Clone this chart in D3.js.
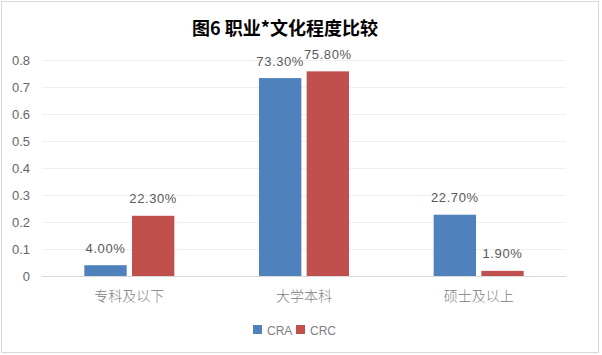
<!DOCTYPE html>
<html>
<head>
<meta charset="utf-8">
<script src="https://d3js.org/d3.v7.min.js"></script>
<style>
  body { margin: 0; background: #fff; }
  text { font-family: "Liberation Sans", "Noto Sans CJK SC", sans-serif; }
</style>
</head>
<body>
<div id="chart"></div>
<script>
// categories, series and their values
var categories = ["专科及以下", "大学本科", "硕士及以上"];
var seriesNames = ["CRA", "CRC"];
var cra = [0.04, 0.733, 0.227];
var crc = [0.223, 0.758, 0.019];
var yTicks = [0, 0.1, 0.2, 0.3, 0.4, 0.5, 0.6, 0.7, 0.8];
var colors = ["#4F81BD", "#C0504D"];

var W = 602, H = 355;
var svg = d3.select("#chart").append("svg").attr("width", W).attr("height", H);

// outer border of the chart area
svg.append("rect").attr("x", 1.5).attr("y", 1.5).attr("width", W - 5).attr("height", H - 4)
  .attr("fill", "#fff").attr("stroke", "#d9d9d9");

// plot area (note: "top" would clash with window.top)
var pLeft = 42, pRight = 566, pTop = 60, pBottom = 276;

var x = d3.scaleBand().domain(categories).range([pLeft, pRight]);
var x1 = d3.scaleBand().domain(seriesNames).range([0, 90]).paddingInner(0.111);
var y = d3.scaleLinear().domain([0, 0.8]).range([pBottom, pTop]);

// gridlines
svg.append("g").selectAll("line").data(yTicks).join("line")
  .attr("x1", pLeft).attr("x2", pRight)
  .attr("y1", function (d) { return Math.round(y(d)) + 0.5; })
  .attr("y2", function (d) { return Math.round(y(d)) + 0.5; })
  .attr("stroke", function (d) { return d === 0 ? "#d9d9d9" : "#efefef"; });

// y tick labels
svg.append("g").selectAll("text").data(yTicks).join("text")
  .attr("x", 30).attr("y", function (d) { return y(d) + 4.5; })
  .attr("text-anchor", "end").attr("fill", "#666").style("font-size", "13px")
  .text(function (d) { return d === 0 ? "0" : d3.format(".1f")(d); });

// bars
var rows = categories.map(function (c, i) { return { cat: c, vals: [cra[i], crc[i]] }; });
var groups = svg.append("g").selectAll("g").data(rows).join("g")
  .attr("transform", function (d) { return "translate(" + (x(d.cat) + (x.bandwidth() - 90) / 2) + ",0)"; });

groups.selectAll("rect").data(function (d) {
  return d.vals.map(function (v, j) { return { s: seriesNames[j], v: v, j: j }; });
}).join("rect")
  .attr("x", function (d) { return x1(d.s); })
  .attr("width", x1.bandwidth())
  .attr("y", function (d) { return y(d.v); })
  .attr("height", function (d) { return pBottom - y(d.v); })
  .attr("fill", function (d) { return colors[d.j]; });

groups.selectAll("text").data(function (d) {
  return d.vals.map(function (v, j) { return { s: seriesNames[j], v: v, j: j }; });
}).join("text")
  .attr("x", function (d) { return x1(d.s) + x1.bandwidth() / 2; })
  .attr("y", function (d) { return y(d.v) - 12.5; })
  .attr("text-anchor", "middle").attr("fill", "#595959").style("font-size", "13px")
  .style("letter-spacing", "0.6px")
  .text(function (d) { return d3.format(".2f")(d.v * 100) + "%"; });

// category labels
svg.append("g").selectAll("text").data(categories).join("text")
  .attr("x", function (d) { return x(d) + x.bandwidth() / 2; })
  .attr("y", 301)
  .attr("text-anchor", "middle").attr("fill", "#808080")
  .style("font-family", "'Noto Sans CJK SC', sans-serif").style("font-size", "14px")
  .style("font-weight", "300")
  .text(function (d) { return d; });

// title
svg.append("text").attr("x", 285).attr("y", 35).attr("text-anchor", "middle")
  .style("font-family", "'Noto Sans CJK SC', sans-serif").style("font-size", "18px")
  .style("font-weight", "bold").attr("fill", "#000")
  .text("图6 职业*文化程度比较");

// legend
var lg = svg.append("g").selectAll("g").data(seriesNames).join("g")
  .attr("transform", function (d, i) { return "translate(" + (253 + i * 43) + ",325)"; });
lg.append("rect").attr("width", 9).attr("height", 9).attr("fill", function (d, i) { return colors[i]; });
lg.append("text").attr("x", 14).attr("y", 9.5).attr("fill", "#808080").style("font-size", "12px")
  .text(function (d) { return d; });
</script>
</body>
</html>
